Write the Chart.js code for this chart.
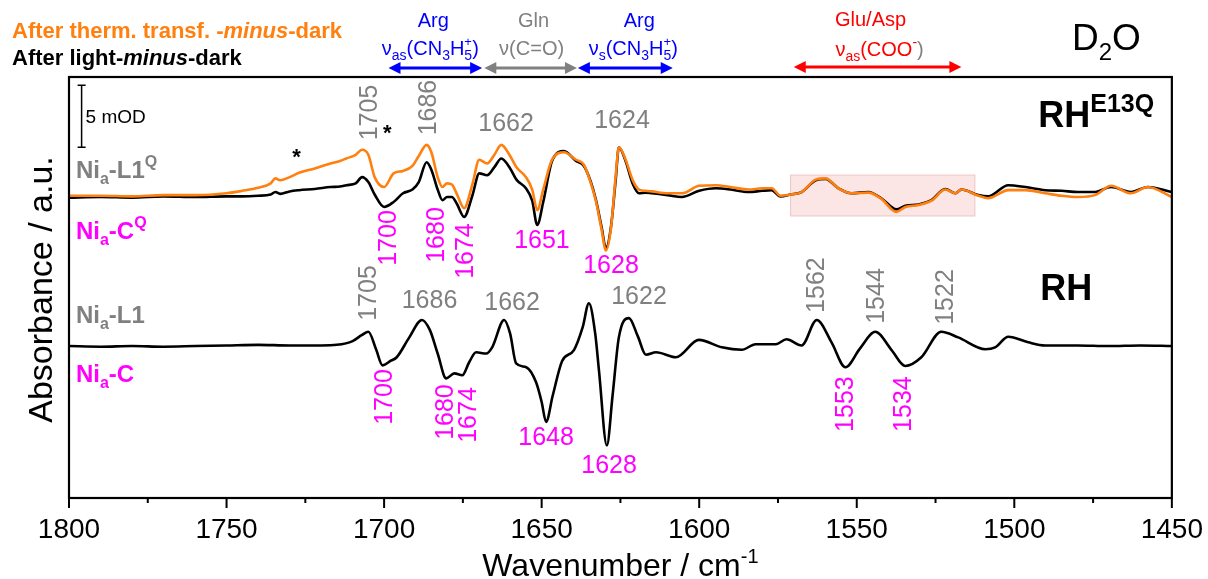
<!DOCTYPE html>
<html>
<head>
<meta charset="utf-8">
<script src="https://cdn.jsdelivr.net/npm/chart.js@4.4.1/dist/chart.umd.min.js"></script>
<style>
  html, body { margin: 0; padding: 0; background: #fff; }
  canvas { display: block; }
</style>
</head>
<body>
<canvas id="spectra" width="1208" height="579"></canvas>
<script>
// IR difference spectra in D2O, absorbance in mOD (relative to each trace's baseline)

const upperWn = [
  1800, 1790, 1780, 1770, 1760, 1750, 1745, 1740, 1736, 1734.5,
  1733, 1730, 1727, 1722, 1717, 1714, 1712, 1709, 1707, 1705,
  1703, 1700, 1697, 1694, 1691, 1689, 1686.5, 1685, 1683, 1681.5,
  1680, 1678.5, 1677, 1674.6, 1672, 1669.8, 1667.3, 1665, 1662.8, 1660,
  1658, 1655, 1653, 1651.4, 1649.5, 1646.7, 1642.9, 1639.1, 1636.6, 1634.5,
  1632.8, 1631, 1629.6, 1628, 1626.5, 1625.5, 1623.5, 1621, 1619.1, 1617,
  1615, 1610, 1605.5, 1600, 1594.7, 1590, 1584.3, 1580, 1577, 1574.2,
  1571, 1567.5, 1563, 1559.9, 1555.8, 1551.7, 1546.3, 1542.2, 1537.4, 1534.6,
  1530.4, 1526.3, 1521.9, 1518.7, 1516.8, 1511.4, 1508.3, 1501.9, 1496.5, 1490.2,
  1485, 1479.8, 1474.4, 1469.3, 1463, 1457.6, 1450
];
// RH E13Q, after light-minus-dark (black)
const e13qLightAbs = [
  -0.05, 0, -0.05, 0.05, 0, 0.05, 0.05, 0.1, 0.2, 0.4,
  0.25, 0.45, 0.55, 0.65, 0.8, 0.85, 0.95, 1.1, 1.6, 1.2,
  0.2, -0.8, -0.4, 0.3, 0.6, 1.2, 2.8, 2.2, 0.6, -0.25,
  0.0, 0.0, -0.5, -1.6, 0.1, 1.9, 1.75, 2.4, 3.1, 2.3,
  1.4, 0.7, -0.3, -2.25, -0.4, 2.9, 3.7, 2.9, 2.5, 1.3,
  -0.2, -2.4, -4.1, -2.4, 1.4, 4.0, 3.0, 1.0, 0.3, 0.35,
  0.3, 0.15, 0.0, 0.5, 0.7, 0.6, 0.4, 0.5, 0.55, 0.05,
  0.2, 0.4, 1.35, 1.45, 0.7, 0.3, 0.4, -0.1, -1.0, -0.7,
  -0.6, -0.25, 0.65, 0.3, 0.6, 0.15, 0.05, 0.95, 0.8, 0.55,
  0.5, 0.4, 0.4, 0.8, 0.4, 0.8, 0.4
];
// RH E13Q, after thermal transformation-minus-dark (orange)
const e13qThermAbs = [
  0.1, 0.1, 0.05, 0.15, 0.15, 0.3, 0.5, 0.75, 1.1, 1.5,
  1.35, 1.6, 1.95, 2.3, 2.7, 2.9, 3.1, 3.4, 3.8, 3.4,
  1.6, 0.8, 1.9, 2.1, 2.5, 3.3, 4.2, 3.6, 1.6, 0.8,
  1.1, 1.0, 0.3, -0.9, 1.0, 3.0, 2.7, 3.4, 4.2, 3.3,
  2.4, 1.6, 0.6, -1.05, 0.6, 3.0, 3.6, 3.0, 2.6, 1.2,
  -0.3, -2.6, -4.3, -2.5, 1.7, 4.0, 3.1, 1.3, 0.6, 0.5,
  0.45, 0.3, 0.3, 0.9, 0.95, 0.8, 0.6, 0.7, 0.7, 0.1,
  0.2, 0.4, 1.4, 1.5, 0.7, 0.3, 0.35, -0.15, -1.2, -0.8,
  -0.65, -0.3, 0.6, 0.3, 0.6, 0.1, -0.1, 0.55, 0.55, 0.3,
  0.1, 0.0, 0.15, 0.9, 0.3, 0.8, 0.0
];

const rhWn = [
  1800, 1790, 1780, 1770, 1760, 1750, 1740, 1730, 1720, 1715,
  1710, 1707, 1705, 1702.5, 1700.5, 1698, 1696, 1692, 1688, 1685.5,
  1683, 1680.3, 1677.7, 1675.2, 1673, 1670.8, 1667.6, 1665.7, 1661.9, 1660,
  1658.1, 1654.9, 1651.8, 1650, 1648.6, 1646.5, 1643.5, 1639.7, 1637, 1635,
  1633, 1631.8, 1629.3, 1627.5, 1625.5, 1622.3, 1619.5, 1616.9, 1613.7, 1607.4,
  1600.1, 1592.8, 1586.5, 1582.1, 1575.7, 1572.3, 1567.5, 1562.7, 1558, 1553.6,
  1549, 1544.1, 1539, 1534.6, 1529.5, 1523.2, 1517.8, 1509.2, 1506.1, 1501.9,
  1495.6, 1490.2, 1480, 1470, 1460, 1450
];
// RH wild type, after light-minus-dark (black)
const rhLightAbs = [
  0, -0.05, 0, -0.05, 0, 0.05, 0.1, 0.05, 0.05, 0.1,
  0.4, 0.9, 1.15, -0.3, -1.55, -1.2, -0.9, 0.7, 2.1, 1.3,
  -0.6, -2.6, -2.2, -2.35, -1.3, -0.5, -0.6, -0.1, 2.1, 1.0,
  -1.4, -1.7, -2.9, -4.5, -6.1, -4.0, -1.2, -0.3, 1.5, 3.45,
  1.0, -2.0, -8.0, -4.0, 0.7, 2.25, 0.8, -0.7, -0.5, -0.9,
  0.5, -0.1, -0.3, 0.15, 0.15, 0.55, 0.05, 2.1, 0.3, -1.7,
  -0.2, 1.15, -0.3, -1.6, -0.9, 1.15, 0.7, -0.25, -0.1, 0.75,
  0.3, 0.05, 0.05, 0, 0.05, 0
];

const upperOffset = 0;
const lowerOffset = -12;
const yMin = -24.23, yMax = 9.66;
const xTicks = [1800, 1750, 1700, 1650, 1600, 1550, 1500, 1450];

// peak labels: [text, wavenumber, position, rotated]
const upperPeaksUp = [['1705', 1704.3, 6.8, true], ['1686', 1685.6, 7.2, true], ['1662', 1661.3, 5.88, false], ['1624', 1624.5, 6.12, false]];
const upperPeaksDown = [['1700', 1698.3, -3.3, true], ['1680', 1683.1, -3.06, true], ['1674', 1673.9, -4.35, true], ['1651', 1649.9, -3.54, false], ['1628', 1628, -5.56, false]];
const lowerPeaksUp = [['1705', 1704.7, -7.73, true], ['1686', 1685.6, -8.37, false], ['1662', 1659.4, -8.53, false], ['1622', 1619.1, -8.05, false], ['1562', 1562.7, -7.09, true], ['1544', 1543.4, -7.97, true], ['1522', 1521.6, -8.05, true]];
const lowerPeaksDown = [['1700', 1699.6, -16.1, true], ['1680', 1680.3, -17.31, true], ['1674', 1673, -17.55, true], ['1648', 1648.6, -19.4, false], ['1628', 1628.6, -21.66, false], ['1553', 1553.3, -16.67, true], ['1534', 1534.9, -16.67, true]];

// assignment arrows above the plot: [from, to]
const argAsRange = [1698.6, 1668.9];
const glnRange = [1668.2, 1638.8];
const argSRange = [1638.5, 1608.4];
const coohRange = [1570, 1516.8];
const highlightWn = [1571, 1512.5];
const highlightAbs = [1.77, -1.53];

const FONT = "'Liberation Sans', Arial, sans-serif";
const GREY = '#808080', MAGENTA = '#ff00ff', BLUE = '#0000ff', RED = '#ff0000', ORANGE = '#ff7f0f';

function pts(wn, abs, off) {
  return wn.map((w, i) => ({ x: w, y: abs[i] + off }));
}

// draws a run of text pieces (sub/superscripts), parts: {t, size, style, dy, color, stack}
function drawRich(ctx, x, y, parts, align) {
  let total = 0;
  const widths = parts.map(p => {
    ctx.font = (p.style || '') + ' ' + p.size + 'px ' + FONT;
    const w = ctx.measureText(p.t).width;
    if (!p.stack) total += w;
    return w;
  });
  let cx = align === 'center' ? x - total / 2 : (align === 'right' ? x - total : x);
  ctx.textAlign = 'left';
  ctx.textBaseline = 'alphabetic';
  parts.forEach((p, i) => {
    ctx.font = (p.style || '') + ' ' + p.size + 'px ' + FONT;
    ctx.fillStyle = p.color;
    ctx.fillText(p.t, cx, y + (p.dy || 0));
    if (!p.stack) cx += widths[i];
  });
}

function arrow(ctx, x0, x1, y, color) {
  const head = 12, hw = 6;
  ctx.save();
  ctx.strokeStyle = color;
  ctx.fillStyle = color;
  ctx.lineWidth = 3;
  ctx.beginPath();
  ctx.moveTo(x0 + head - 2, y);
  ctx.lineTo(x1 - head + 2, y);
  ctx.stroke();
  ctx.beginPath();
  ctx.moveTo(x0, y); ctx.lineTo(x0 + head, y - hw); ctx.lineTo(x0 + head, y + hw); ctx.closePath(); ctx.fill();
  ctx.beginPath();
  ctx.moveTo(x1, y); ctx.lineTo(x1 - head, y - hw); ctx.lineTo(x1 - head, y + hw); ctx.closePath(); ctx.fill();
  ctx.restore();
}

function peakLabels(ctx, x, y, list, color) {
  ctx.fillStyle = color;
  ctx.font = '25px ' + FONT;
  ctx.textAlign = 'center';
  ctx.textBaseline = 'middle';
  list.forEach(([t, wn, v, rot]) => {
    const px = x.getPixelForValue(wn), py = y.getPixelForValue(v);
    ctx.save();
    ctx.translate(px, py);
    if (rot) ctx.rotate(-Math.PI / 2);
    ctx.fillText(t, 0, 0);
    ctx.restore();
  });
}

const decor = {
  id: 'decor',
  beforeDatasetsDraw(chart) {
    const { ctx, scales: { x, y } } = chart;
    const x0 = x.getPixelForValue(highlightWn[0]), x1 = x.getPixelForValue(highlightWn[1]);
    const y0 = y.getPixelForValue(highlightAbs[0]), y1 = y.getPixelForValue(highlightAbs[1]);
    ctx.save();
    ctx.fillStyle = 'rgba(248,190,190,0.4)';
    ctx.fillRect(x0, y0, x1 - x0, y1 - y0);
    ctx.strokeStyle = 'rgba(225,170,170,0.6)';
    ctx.lineWidth = 1;
    ctx.strokeRect(x0, y0, x1 - x0, y1 - y0);
    ctx.restore();
  },
  afterDraw(chart) {
    const { ctx, chartArea: a, scales: { x, y } } = chart;
    ctx.save();

    // frame
    ctx.strokeStyle = '#000';
    ctx.lineWidth = 2.2;
    ctx.strokeRect(a.left, a.top, a.right - a.left, a.bottom - a.top);

    // ticks on the wavenumber axis (major 50, minor 25)
    ctx.lineWidth = 2;
    for (let wn = 1450; wn <= 1800; wn += 25) {
      const px = x.getPixelForValue(wn);
      ctx.beginPath();
      ctx.moveTo(px, a.bottom);
      ctx.lineTo(px, a.bottom + (wn % 50 === 0 ? 10 : 5));
      ctx.stroke();
    }

    // axis titles
    drawRich(ctx, (a.left + a.right) / 2, 576, [
      { t: 'Wavenumber / cm', size: 32, color: '#000' },
      { t: '-1', size: 20, dy: -13, color: '#000' }
    ], 'center');
    ctx.save();
    ctx.translate(52, (a.top + a.bottom) / 2 + 2);
    ctx.rotate(-Math.PI / 2);
    ctx.fillStyle = '#000';
    ctx.font = '34px ' + FONT;
    ctx.textAlign = 'center';
    ctx.textBaseline = 'alphabetic';
    ctx.fillText('Absorbance / a.u.', 0, 0);
    ctx.restore();

    // legend-like headers
    drawRich(ctx, 12, 38, [
      { t: 'After therm. transf. -', size: 22, style: 'bold', color: ORANGE },
      { t: 'minus', size: 22, style: 'italic bold', color: ORANGE },
      { t: '-dark', size: 22, style: 'bold', color: ORANGE }
    ], 'left');
    drawRich(ctx, 12, 65, [
      { t: 'After light-', size: 22, style: 'bold', color: '#000' },
      { t: 'minus', size: 22, style: 'italic bold', color: '#000' },
      { t: '-dark', size: 22, style: 'bold', color: '#000' }
    ], 'left');

    // assignment arrows and labels
    const mid = r => x.getPixelForValue((r[0] + r[1]) / 2);
    arrow(ctx, x.getPixelForValue(argAsRange[0]), x.getPixelForValue(argAsRange[1]), 68, BLUE);
    arrow(ctx, x.getPixelForValue(glnRange[0]), x.getPixelForValue(glnRange[1]), 68, GREY);
    arrow(ctx, x.getPixelForValue(argSRange[0]), x.getPixelForValue(argSRange[1]), 68, BLUE);
    arrow(ctx, x.getPixelForValue(coohRange[0]), x.getPixelForValue(coohRange[1]), 67, RED);

    drawRich(ctx, mid(argAsRange) - 2, 27, [{ t: 'Arg', size: 20, color: BLUE }], 'center');
    drawRich(ctx, mid(argAsRange) - 5, 55, [
      { t: '\u03bd', size: 20, color: BLUE },
      { t: 'as', size: 14, dy: 5, color: BLUE },
      { t: '(CN', size: 20, color: BLUE },
      { t: '3', size: 14, dy: 5, color: BLUE },
      { t: 'H', size: 20, color: BLUE },
      { t: '+', size: 13, dy: -9, color: BLUE, stack: true },
      { t: '5', size: 14, dy: 5, color: BLUE },
      { t: ')', size: 20, color: BLUE }
    ], 'center');
    drawRich(ctx, mid(glnRange) + 3, 27, [{ t: 'Gln', size: 20, color: GREY }], 'center');
    drawRich(ctx, mid(glnRange) + 1, 55, [{ t: '\u03bd(C=O)', size: 20, color: GREY }], 'center');
    drawRich(ctx, mid(argSRange) + 14, 27, [{ t: 'Arg', size: 20, color: BLUE }], 'center');
    drawRich(ctx, mid(argSRange) + 8, 55, [
      { t: '\u03bd', size: 20, color: BLUE },
      { t: 's', size: 14, dy: 5, color: BLUE },
      { t: '(CN', size: 20, color: BLUE },
      { t: '3', size: 14, dy: 5, color: BLUE },
      { t: 'H', size: 20, color: BLUE },
      { t: '+', size: 13, dy: -9, color: BLUE, stack: true },
      { t: '5', size: 14, dy: 5, color: BLUE },
      { t: ')', size: 20, color: BLUE }
    ], 'center');
    drawRich(ctx, mid(coohRange) - 7, 26, [{ t: 'Glu/Asp', size: 20, color: RED }], 'center');
    drawRich(ctx, mid(coohRange) + 2, 56, [
      { t: '\u03bd', size: 20, color: RED },
      { t: 'as', size: 14, dy: 5, color: RED },
      { t: '(COO', size: 20, color: RED },
      { t: '-', size: 14, dy: -9, color: RED },
      { t: ')', size: 20, color: GREY }
    ], 'center');

    // D2O
    drawRich(ctx, 1072, 50, [
      { t: 'D', size: 37, color: '#000' },
      { t: '2', size: 24, dy: 10, color: '#000' },
      { t: 'O', size: 37, color: '#000' }
    ], 'left');

    // scale bar 5 mOD
    const sbx = x.getPixelForValue(1796);
    const sbTop = y.getPixelForValue(9.0), sbBot = y.getPixelForValue(4.0);
    ctx.strokeStyle = '#000';
    ctx.lineWidth = 1.5;
    ctx.beginPath();
    ctx.moveTo(sbx, sbTop); ctx.lineTo(sbx, sbBot);
    ctx.moveTo(sbx - 4, sbTop); ctx.lineTo(sbx + 4, sbTop);
    ctx.moveTo(sbx - 4, sbBot); ctx.lineTo(sbx + 4, sbBot);
    ctx.stroke();
    drawRich(ctx, sbx + 4, y.getPixelForValue(5.96), [{ t: '5 mOD', size: 19, color: '#000' }], 'left');

    // state labels
    const nx = x.getPixelForValue(1797.8);
    drawRich(ctx, nx, y.getPixelForValue(1.53), [
      { t: 'Ni', size: 24, style: 'bold', color: GREY },
      { t: 'a', size: 16, style: 'bold', dy: 6, color: GREY },
      { t: '-L1', size: 24, style: 'bold', color: GREY },
      { t: 'Q', size: 16, style: 'bold', dy: -11, color: GREY }
    ], 'left');
    drawRich(ctx, nx, y.getPixelForValue(-3.38), [
      { t: 'Ni', size: 24, style: 'bold', color: MAGENTA },
      { t: 'a', size: 16, style: 'bold', dy: 6, color: MAGENTA },
      { t: '-C', size: 24, style: 'bold', color: MAGENTA },
      { t: 'Q', size: 16, style: 'bold', dy: -11, color: MAGENTA }
    ], 'left');
    drawRich(ctx, nx, y.getPixelForValue(-10.14), [
      { t: 'Ni', size: 24, style: 'bold', color: GREY },
      { t: 'a', size: 16, style: 'bold', dy: 6, color: GREY },
      { t: '-L1', size: 24, style: 'bold', color: GREY }
    ], 'left');
    drawRich(ctx, nx, y.getPixelForValue(-14.9), [
      { t: 'Ni', size: 24, style: 'bold', color: MAGENTA },
      { t: 'a', size: 16, style: 'bold', dy: 6, color: MAGENTA },
      { t: '-C', size: 24, style: 'bold', color: MAGENTA }
    ], 'left');

    // sample labels
    drawRich(ctx, x.getPixelForValue(1492.4), y.getPixelForValue(5.64), [
      { t: 'RH', size: 36, style: 'bold', color: '#000' },
      { t: 'E13Q', size: 25, style: 'bold', dy: -15, color: '#000' }
    ], 'left');
    drawRich(ctx, x.getPixelForValue(1491.8), y.getPixelForValue(-8.29), [
      { t: 'RH', size: 36, style: 'bold', color: '#000' }
    ], 'left');

    // asterisks
    ctx.fillStyle = '#000';
    ctx.font = 'bold 22px ' + FONT;
    ctx.textAlign = 'center';
    ctx.textBaseline = 'alphabetic';
    ctx.fillText('*', x.getPixelForValue(1727.8), y.getPixelForValue(3.62) + 12);
    ctx.fillText('*', x.getPixelForValue(1699), y.getPixelForValue(5.56) + 12);

    // peak positions
    peakLabels(ctx, x, y, upperPeaksUp, GREY);
    peakLabels(ctx, x, y, upperPeaksDown, MAGENTA);
    peakLabels(ctx, x, y, lowerPeaksUp, GREY);
    peakLabels(ctx, x, y, lowerPeaksDown, MAGENTA);

    ctx.restore();
  }
};

const line = (data, color) => ({
  data: data,
  borderColor: color,
  borderWidth: 2.6,
  pointRadius: 0,
  fill: false,
  cubicInterpolationMode: 'monotone'
});

// first dataset is painted last, so the orange trace sits on top of the black one
new Chart(document.getElementById('spectra'), {
  type: 'line',
  data: {
    datasets: [
      line(pts(upperWn, e13qThermAbs, upperOffset), ORANGE),
      line(pts(upperWn, e13qLightAbs, upperOffset), '#000000'),
      line(pts(rhWn, rhLightAbs, lowerOffset), '#000000')
    ]
  },
  options: {
    responsive: false,
    animation: false,
    layout: { padding: { left: 69, right: 34, top: 77, bottom: 0 } },
    plugins: { legend: { display: false }, tooltip: { enabled: false } },
    scales: {
      x: {
        type: 'linear',
        min: 1450,
        max: 1800,
        reverse: true,
        afterFit: s => { s.height = 81; },
        afterBuildTicks: s => { s.ticks = xTicks.map(v => ({ value: v })); },
        ticks: {
          autoSkip: false,
          maxRotation: 0,
          padding: 5,
          color: '#000',
          font: { family: FONT, size: 28 },
          callback: v => String(v)
        },
        grid: { display: false, drawTicks: true, tickLength: 10 },
        border: { display: false }
      },
      y: { display: false, min: yMin, max: yMax }
    }
  },
  plugins: [decor]
});
</script>
</body>
</html>
